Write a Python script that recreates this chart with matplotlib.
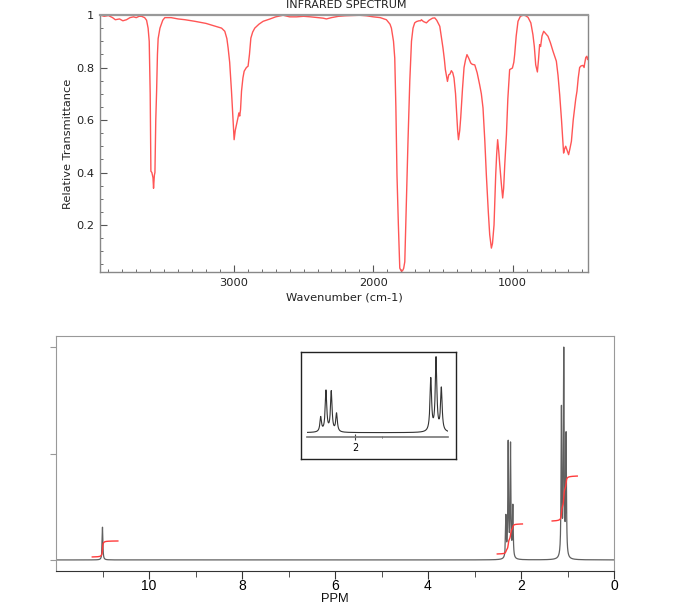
import numpy as np
import matplotlib
matplotlib.use('Agg')
import matplotlib.pyplot as plt
from matplotlib.ticker import MultipleLocator, FixedLocator, FuncFormatter

# ---------------- IR data (wavenumber cm-1, relative transmittance) ----------------
ir_wavenumber = [3960, 3930, 3900, 3870, 3850, 3820, 3796, 3770, 3745, 3720, 3700, 3680,
                 3662, 3640, 3626, 3615, 3607, 3600, 3595, 3588, 3580, 3576, 3570, 3566,
                 3560, 3554, 3548, 3543, 3530, 3510, 3495, 3450, 3400, 3350, 3280, 3200,
                 3150, 3088, 3065, 3050, 3041, 3030, 3017, 3008, 2998, 2990, 2981, 2970,
                 2964, 2958, 2952, 2945, 2935, 2926, 2910, 2898, 2888, 2878, 2865, 2850,
                 2820, 2790, 2740, 2700, 2647, 2600, 2550, 2500, 2450, 2400, 2360, 2336,
                 2300, 2250, 2200, 2150, 2097, 2050, 2000, 1950, 1906, 1880, 1870, 1855,
                 1846, 1838, 1830, 1820, 1810, 1800, 1791, 1782, 1774, 1762, 1751, 1738,
                 1726, 1715, 1703, 1690, 1672, 1660, 1655, 1640, 1619, 1600, 1575, 1559,
                 1545, 1523, 1500, 1490, 1483, 1468, 1459, 1450, 1440, 1430, 1421, 1410,
                 1404, 1395, 1389, 1380, 1373, 1360, 1349, 1338, 1328, 1315, 1301, 1290,
                 1272, 1255, 1237, 1225, 1213, 1200, 1189, 1175, 1165, 1153, 1145, 1134,
                 1128, 1122, 1115, 1108, 1100, 1093, 1082, 1072, 1065, 1057, 1045, 1035,
                 1022, 1012, 1002, 992, 986, 975, 962, 945, 926, 910, 890, 870, 855, 845,
                 835, 823, 815, 807, 800, 790, 778, 765, 747, 730, 711, 700, 687, 675,
                 663, 650, 640, 635, 628, 620, 610, 599, 590, 579, 566, 556, 548, 539,
                 530, 520, 510, 496, 488, 484, 476, 468, 463, 460]
ir_transmittance = [1.000, 0.995, 0.998, 0.990, 0.982, 0.985, 0.978, 0.982, 0.990, 0.993, 0.990, 0.995,
                    0.995, 0.990, 0.980, 0.950, 0.900, 0.700, 0.405, 0.400, 0.380, 0.340, 0.390, 0.400,
                    0.600, 0.710, 0.850, 0.910, 0.950, 0.980, 0.990, 0.990, 0.985, 0.982, 0.976, 0.968,
                    0.960, 0.950, 0.938, 0.910, 0.874, 0.820, 0.710, 0.620, 0.525, 0.560, 0.582, 0.610,
                    0.627, 0.615, 0.640, 0.710, 0.760, 0.786, 0.800, 0.805, 0.850, 0.912, 0.935, 0.950,
                    0.965, 0.976, 0.985, 0.993, 0.999, 0.993, 0.993, 0.995, 0.993, 0.990, 0.988, 0.985,
                    0.990, 0.995, 0.997, 0.998, 0.999, 0.997, 0.993, 0.990, 0.982, 0.965, 0.950, 0.900,
                    0.836, 0.650, 0.390, 0.200, 0.036, 0.025, 0.025, 0.035, 0.060, 0.300, 0.520, 0.750,
                    0.900, 0.950, 0.970, 0.975, 0.978, 0.978, 0.982, 0.975, 0.970, 0.980, 0.988, 0.989,
                    0.980, 0.957, 0.874, 0.830, 0.792, 0.747, 0.772, 0.775, 0.788, 0.780, 0.760, 0.700,
                    0.646, 0.560, 0.525, 0.560, 0.608, 0.720, 0.800, 0.830, 0.849, 0.835, 0.817, 0.812,
                    0.810, 0.780, 0.734, 0.700, 0.646, 0.520, 0.390, 0.250, 0.163, 0.112, 0.130, 0.200,
                    0.300, 0.390, 0.470, 0.525, 0.480, 0.430, 0.360, 0.303, 0.340, 0.430, 0.544, 0.680,
                    0.792, 0.795, 0.798, 0.820, 0.849, 0.920, 0.976, 0.995, 0.999, 0.998, 0.991, 0.970, 0.925, 0.880,
                    0.810, 0.783, 0.830, 0.887, 0.880, 0.920, 0.938, 0.930, 0.919, 0.895, 0.862, 0.845, 0.824, 0.770,
                    0.696, 0.600, 0.520, 0.474, 0.490, 0.500, 0.485, 0.468, 0.490, 0.519, 0.600, 0.646, 0.680, 0.710,
                    0.760, 0.800, 0.806, 0.808, 0.800, 0.815, 0.838, 0.843, 0.830, 0.835]
ir_xticks = [3000, 2000, 1000]
ir_yticks = [0.2, 0.4, 0.6, 0.8, 1.0]

# ---------------- 1H NMR data ----------------
nmr_line_ppm = [11.00, 2.325, 2.275, 2.225, 2.175, 1.130, 1.080, 1.030]
nmr_line_height = [0.16, 0.20, 0.56, 0.55, 0.25, 0.72, 1.00, 0.59]
nmr_xticks = [0, 2, 4, 6, 8, 10]
nmr_xminor = [1, 3, 5, 7, 9, 11]
# integration curves: ppm range (high -> low) and start/end levels
integral_start_ppm = [11.22, 2.51, 1.33]
integral_end_ppm = [10.67, 1.97, 0.79]
integral_low = [0.014, 0.028, 0.183]
integral_high = [0.089, 0.169, 0.394]
# inset: expanded 2.5-0.9 ppm region with the empty gap cut out
inset_xticks = [2]
inset_break = 1.744      # inset position of the cut
inset_gap = 0.152        # ppm removed at the cut
inset_xlim = (2.455, 1.119)

W, H = 698, 608
fig = plt.figure(figsize=(W / 100, H / 100), dpi=100)


def box(l, t, r, b):
    return [l / W, 1 - b / H, (r - l) / W, (b - t) / H]


# ======================= IR spectrum =======================
ax = fig.add_axes(box(100, 15, 588, 272))
ax.plot(ir_wavenumber, ir_transmittance, color='#ff5555', lw=1.0)
ax.set_xlim(3960, 460)
ax.set_ylim(0.021, 1.0)
ax.xaxis.set_major_locator(FixedLocator(ir_xticks))
ax.xaxis.set_minor_locator(MultipleLocator(100))
ax.yaxis.set_major_locator(FixedLocator(ir_yticks))
ax.yaxis.set_minor_locator(MultipleLocator(0.05))
ax.yaxis.set_major_formatter(FuncFormatter(lambda v, p: f'{v:g}'))
ax.tick_params(which='both', direction='in', colors='#555555', labelcolor='#222222',
               labelsize=8.2, pad=4)
ax.tick_params(which='major', length=5)
ax.tick_params(which='minor', length=2.5)
for s in ax.spines.values():
    s.set_color('#888888')
    s.set_linewidth(1.0)
ax.spines['top'].set_linewidth(1.6)
ax.spines['top'].set_color('#999999')
fig.text(346 / W, 1 - 5.5 / H, 'INFRARED SPECTRUM', ha='center', va='center',
         fontsize=8, color='#222222')
fig.text(344 / W, 1 - 297 / H, 'Wavenumber (cm-1)', ha='center', va='center',
         fontsize=8.2, color='#222222')
fig.text(68 / W, 1 - 143.5 / H, 'Relative Transmittance', ha='center', va='center',
         rotation=90, fontsize=8.2, color='#222222')

# ======================= NMR spectrum =======================
gamma = 0.009


def spectrum(x):
    y = np.zeros_like(x)
    for p, h in zip(nmr_line_ppm, nmr_line_height):
        y += h * gamma ** 2 / ((x - p) ** 2 + gamma ** 2)
    return y


xs = np.linspace(0, 12, 80001)
ys = spectrum(xs)
norm = ys.max()
ys = ys / norm

ax2 = fig.add_axes(box(56, 336, 614, 571))
ax2.plot(xs, ys, color='#606060', lw=0.9)

for a, b, lo, hi in zip(integral_start_ppm, integral_end_ppm, integral_low, integral_high):
    xi = np.linspace(a, b, 4000)
    yi = spectrum(xi)
    c = np.cumsum(yi)
    c = (c - c[0]) / (c[-1] - c[0])
    ax2.plot(xi, lo + (hi - lo) * c, color='#ff3b3b', lw=1.0)

ax2.set_xlim(12, 0)
ax2.set_ylim(-0.052, 1.052)
ax2.xaxis.set_major_locator(FixedLocator(nmr_xticks))
ax2.xaxis.set_minor_locator(FixedLocator(nmr_xminor))
ax2.yaxis.set_major_locator(FixedLocator([0, 0.5, 1.0]))
ax2.yaxis.set_major_formatter(FuncFormatter(lambda v, p: ''))
ax2.tick_params(axis='x', which='major', direction='out', length=5.5, color='#333333',
                labelsize=10, pad=0)
ax2.tick_params(axis='x', which='minor', direction='out', length=4, color='#333333')
ax2.tick_params(axis='y', which='major', direction='out', length=4, color='#999999')
for lab in ax2.get_xticklabels():
    lab.set_fontfamily('Liberation Sans')
for side in ['left', 'top', 'right']:
    ax2.spines[side].set_color('#999999')
ax2.spines['bottom'].set_color('#333333')
fig.text(335 / W, 1 - 601.5 / H, 'PPM', ha='center', va='baseline', fontsize=9.3,
         family='Liberation Sans', color='#111111')

# ---------------- inset ----------------
axb = fig.add_axes(box(301, 352, 456, 459))
axb.set_xticks([])
axb.set_yticks([])
for s in axb.spines.values():
    s.set_color('#222222')
    s.set_linewidth(1.0)
axb.patch.set_facecolor('white')

axi = fig.add_axes(box(307, 354, 448, 437))
axi.patch.set_alpha(0)
u = np.linspace(inset_xlim[1], inset_xlim[0], 8000)
ppm_u = np.where(u >= inset_break, u, u - inset_gap)
axi.plot(u, spectrum(ppm_u) / norm, color='#333333', lw=0.8)
axi.set_xlim(*inset_xlim)
axi.set_ylim(-0.057, 1.035)
for side in ['left', 'top', 'right']:
    axi.spines[side].set_visible(False)
axi.spines['bottom'].set_color('#777777')
axi.spines['bottom'].set_linewidth(1.2)
axi.set_yticks([])
axi.xaxis.set_major_locator(FixedLocator(inset_xticks))
axi.xaxis.set_minor_locator(FixedLocator([inset_break]))
axi.tick_params(axis='x', which='major', direction='inout', length=5, color='#444444',
                labelsize=7, pad=2)
axi.tick_params(axis='x', which='minor', direction='inout', length=2, color='#444444')

fig.savefig('out.png', dpi=100)
